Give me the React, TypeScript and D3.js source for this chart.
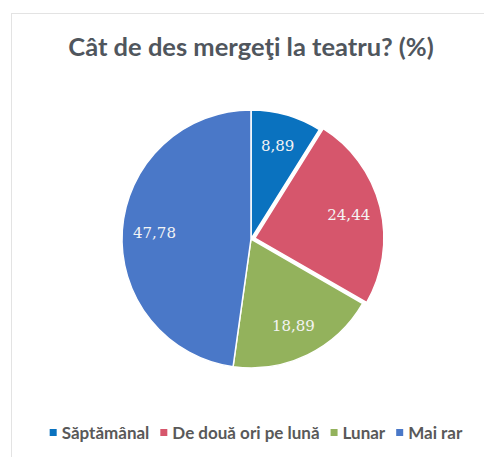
import React, { useEffect, useRef } from "react";
import * as d3 from "d3";

const categories = ["Săptămânal", "De două ori pe lună", "Lunar", "Mai rar"];
const values = [8.89, 24.44, 18.89, 47.78];
const labels = ["8,89", "24,44", "18,89", "47,78"];
const colors = ["#0a72bf", "#d6566c", "#93b25c", "#4a78c8"];
const exploded = [0, 4, 0, 0];
const title = "Cât de des mergeţi la teatru? (%)";

const W = 484;
const H = 457;

export default function App() {
  const ref = useRef<SVGSVGElement | null>(null);
  useEffect(() => {
    const svg = d3.select(ref.current);
    svg.selectAll("*").remove();

    // frame
    svg.append("rect").attr("x", 11.5).attr("y", 13.5).attr("width", W).attr("height", H)
      .attr("fill", "#fff").attr("stroke", "#e3e3e3").attr("stroke-width", 1);

    svg.append("text").attr("x", 251).attr("y", 56).attr("text-anchor", "middle")
      .attr("font-family", "Lato, sans-serif").attr("font-weight", 700).attr("font-size", 25.5)
      .attr("fill", "#50565d").text(title);

    const cx = 251, cy = 239, R = 129;
    const pie = d3.pie<number>().sort(null).value((d) => d);
    const arcs = pie(values);
    const arc = d3.arc<d3.PieArcDatum<number>>().innerRadius(0).outerRadius(R);
    const labelArc = d3.arc<d3.PieArcDatum<number>>().innerRadius(R * 0.75).outerRadius(R * 0.75);
    const g = svg.append("g").attr("transform", `translate(${cx},${cy})`);
    arcs.forEach((a, i) => {
      const mid = (a.startAngle + a.endAngle) / 2;
      const ox = Math.sin(mid) * exploded[i];
      const oy = -Math.cos(mid) * exploded[i];
      const gg = g.append("g").attr("transform", `translate(${ox},${oy})`);
      gg.append("path").attr("d", arc(a) as string).attr("fill", colors[i])
        .attr("stroke", "#fff").attr("stroke-width", 1.5).attr("stroke-linejoin", "round");
      const [lx, ly] = labelArc.centroid(a);
      gg.append("text").attr("x", lx).attr("y", ly).attr("dy", "0.35em").attr("text-anchor", "middle")
        .attr("font-family", "'DejaVu Serif', serif").attr("font-size", 15)
        .attr("fill", "#f4f4f4").text(labels[i]);
    });

    // legend
    const lg = svg.append("g");
    const ly = 433;
    const items: { w: number; sel: any }[] = [];
    categories.forEach((c, i) => {
      const ig = lg.append("g");
      ig.append("rect").attr("x", 0).attr("y", ly - 4).attr("width", 7).attr("height", 7).attr("fill", colors[i]);
      const t = ig.append("text").attr("x", 12).attr("y", ly).attr("dy", "0.35em")
        .attr("font-family", "Lato, sans-serif").attr("font-weight", 700).attr("font-size", 17)
        .attr("fill", "#595959").text(c);
      const tw = (t.node() as SVGTextElement).getComputedTextLength();
      items.push({ w: 12 + tw, sel: ig });
    });
    const gap = 11;
    const total = items.reduce((s, it) => s + it.w, 0) + gap * (items.length - 1);
    let x = 256 - total / 2;
    items.forEach((it) => {
      it.sel.attr("transform", `translate(${x},0)`);
      x += it.w + gap;
    });
  }, []);
  return (
    <svg ref={ref} width={W} height={H} style={{ position: "absolute", left: 0, top: 0 }} />
  );
}
